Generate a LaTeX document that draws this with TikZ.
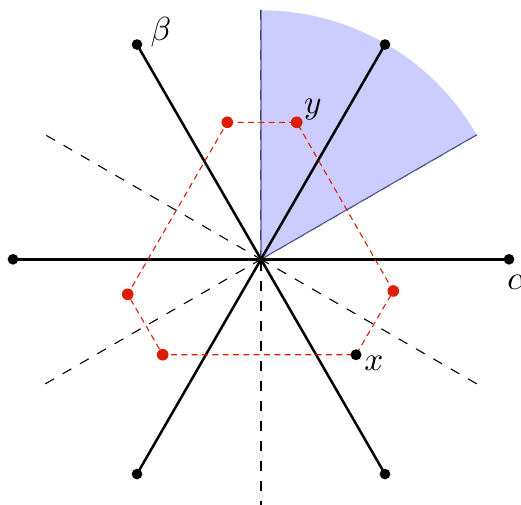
\documentclass[tikz,border=0pt]{standalone}
\definecolor{myred}{RGB}{221,30,5}
\definecolor{edgeblue}{RGB}{85,85,150}
\begin{document}
\begin{tikzpicture}[x=0.3pt,y=0.3pt,
  root/.style={line width=0.75pt},
  wall/.style={dashed, line width=0.33pt},
  orbit/.style={draw=myred, dash pattern=on 1.8pt off 1.3pt, line width=0.33pt},
  wedgeedge/.style={draw=edgeblue, line width=0.33pt},
  bdot/.style={circle, fill=black, inner sep=0pt, minimum size=3.2pt},
  rdot/.style={circle, fill=myred, inner sep=0pt, minimum size=3.5pt},
  lab/.style={inner sep=0pt}]
\useasboundingbox (-261,-244.7) rectangle (260,259.3);
\coordinate (O) at (0,0);
% walls
\coordinate (w1) at (90:249);
\coordinate (w2) at (270:252);
\coordinate (w3) at (30:249);
\coordinate (w4) at (210:249);
\coordinate (w5) at (150:248);
\coordinate (w6) at (330:249);
\foreach \w in {w1,w2,w3,w4,w5,w6} \draw[wall] (\w) -- (O);
% Weyl chamber
\fill[blue!20] (O) -- (w3) arc[start angle=30, end angle=90, radius=74.7pt] -- cycle;
\draw[wedgeedge] (w1) -- (O) -- (w3);
% roots
\coordinate (r1) at (0:248);
\coordinate (r2) at (60:248);
\coordinate (r3) at (120:248);
\coordinate (r4) at (180:248);
\coordinate (r5) at (240:248);
\coordinate (r6) at (300:248);
\draw[root] (r1) -- (r4);
\draw[root] (r2) -- (r5);
\draw[root] (r3) -- (r6);
\foreach \r in {r1,r2,r3,r4,r5,r6} \node[bdot] (d\r) at (\r) {};
% orbit hexagon
\coordinate (h1) at (-33.7,137);
\coordinate (h2) at (35.7,137);
\coordinate (h3) at (132.3,-31.7);
\coordinate (h4) at (95,-95.4);
\coordinate (h5) at (-98.3,-95.4);
\coordinate (h6) at (-133.3,-35);
\draw[orbit] (h1) -- (h2) -- (h3) -- (h4) -- (h5) -- (h6) -- cycle;
\foreach \h in {h1,h2,h3,h5,h6} \node[rdot] (d\h) at (\h) {};
\node[bdot, minimum size=3.3pt] (dh4) at (h4) {};
% labels
\node[lab] (lbeta) at (-100,227) {$\beta$};
\node[lab] (lalpha) at (257,-23) {$\alpha$};
\node[lab] (ly) at (52,150) {$y$};
\node[lab] (lx) at (113,-104) {$x$};
\end{tikzpicture}
\end{document}
